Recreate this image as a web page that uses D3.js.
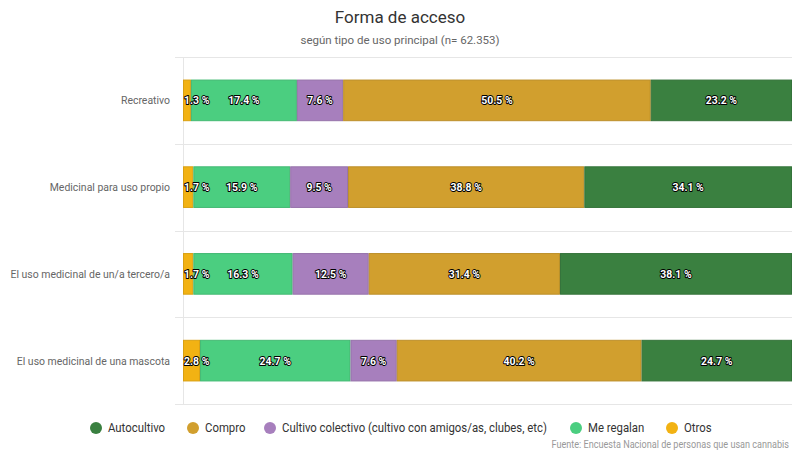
<!DOCTYPE html>
<html>
<head>
<meta charset="utf-8">
<script src="https://cdn.jsdelivr.net/npm/d3@7"></script>
<style>
  body { margin: 0; background: #fff; }
  svg { font-family: Roboto, "Noto Sans", sans-serif; }
</style>
</head>
<body>
<div id="chart"></div>
<script>
// data
var categories = ["Recreativo", "Medicinal para uso propio", "El uso medicinal de un/a tercero/a", "El uso medicinal de una mascota"];
var seriesNames = ["Otros", "Me regalan", "Cultivo colectivo (cultivo con amigos/as, clubes, etc)", "Compro", "Autocultivo"];
var otros = [1.3, 1.7, 1.7, 2.8];
var meRegalan = [17.4, 15.9, 16.3, 24.7];
var cultivoColectivo = [7.6, 9.5, 12.5, 7.6];
var compro = [50.5, 38.8, 31.4, 40.2];
var autocultivo = [23.2, 34.1, 38.1, 24.7];
var legendOrder = ["Autocultivo", "Compro", "Cultivo colectivo (cultivo con amigos/as, clubes, etc)", "Me regalan", "Otros"];

var colors = {
  "Otros": "#f2b213",
  "Me regalan": "#4bce80",
  "Cultivo colectivo (cultivo con amigos/as, clubes, etc)": "#a77fbd",
  "Compro": "#d19f2e",
  "Autocultivo": "#3a8040"
};

var width = 800, height = 453;
var margin = {top: 57, right: 8, bottom: 49, left: 183};
var squeeze = 0.91; // narrow the text a bit, the original font is condensed

var svg = d3.select('#chart').append('svg')
  .attr('width', width)
  .attr('height', height);

var rows = categories.map(function(c, i) {
  return {cat: c, values: [otros[i], meRegalan[i], cultivoColectivo[i], compro[i], autocultivo[i]]};
});

var x = d3.scaleLinear().domain([0, 100]).range([margin.left, width - margin.right]);
var y = d3.scaleBand().domain(categories).range([margin.top, height - margin.bottom]).paddingInner(0.52).paddingOuter(0.26);
var yGrid = d3.scaleBand().domain(categories).range([margin.top, height - margin.bottom]);

// text placed at (px,py) and squeezed sideways
function sqText(parent, px, py) {
  return parent.append('g')
    .attr('transform', 'translate(' + px + ',' + py + ') scale(' + squeeze + ',1)')
    .append('text');
}

// titles
svg.append('text').attr('x', width / 2).attr('y', 23)
  .attr('text-anchor', 'middle').attr('font-size', 17).attr('fill', '#333')
  .text('Forma de acceso');
svg.append('text').attr('x', width / 2).attr('y', 44)
  .attr('text-anchor', 'middle').attr('font-size', 11.5).attr('fill', '#666')
  .text('según tipo de uso principal (n= 62.353)');

// grid lines between categories
var gridYs = categories.map(function(c) { return yGrid(c); }).concat([height - margin.bottom]);
svg.selectAll('.grid').data(gridYs).enter().append('line')
  .attr('x1', margin.left - 8).attr('x2', width - margin.right)
  .attr('y1', function(d) { return Math.round(d) + 0.5; })
  .attr('y2', function(d) { return Math.round(d) + 0.5; })
  .attr('stroke', '#e6e6e6').attr('stroke-width', 1);
svg.append('line')
  .attr('x1', margin.left + 0.5).attr('x2', margin.left + 0.5)
  .attr('y1', margin.top).attr('y2', height - margin.bottom)
  .attr('stroke', '#e6e6e6');

// category labels
categories.forEach(function(c) {
  sqText(svg, margin.left - 13, y(c) + y.bandwidth() / 2)
    .attr('dy', '0.35em')
    .attr('text-anchor', 'end').attr('font-size', 11.5).attr('fill', '#666')
    .text(c);
});

// bars
var g = svg.selectAll('.row').data(rows).enter().append('g')
  .attr('transform', function(d) { return 'translate(0,' + y(d.cat) + ')'; });

g.each(function(d) {
  var acc = 0;
  var segs = d.values.map(function(v, i) {
    var s = {name: seriesNames[i], v: v, x0: acc, x1: acc + v};
    acc += v;
    return s;
  });
  var sel = d3.select(this);
  sel.selectAll('rect').data(segs).enter().append('rect')
    .attr('x', function(s) { return x(s.x0) + 0.5; })
    .attr('y', 0.5)
    .attr('width', function(s) { return Math.max(0, x(s.x1) - x(s.x0) - 1); })
    .attr('height', y.bandwidth() - 1)
    .attr('fill', function(s) { return colors[s.name]; })
    .attr('stroke', function(s) { return d3.color(colors[s.name]).darker(0.3); })
    .attr('stroke-width', 1);
  segs.forEach(function(s) {
    var small = s.v < 4;
    sqText(sel, small ? x(s.x0) + 1 : (x(s.x0) + x(s.x1)) / 2, y.bandwidth() / 2)
      .attr('dy', '0.35em')
      .attr('text-anchor', small ? 'start' : 'middle')
      .attr('font-size', 11.5).attr('font-weight', 'bold')
      .attr('fill', '#fff').attr('stroke', '#000').attr('stroke-width', 2)
      .attr('stroke-linejoin', 'round').attr('paint-order', 'stroke')
      .text(s.v.toFixed(1) + ' %');
  });
});

// legend
var legendX = [96, 193, 270, 576, 672];
legendOrder.forEach(function(name, i) {
  svg.append('circle').attr('cx', legendX[i]).attr('cy', 428)
    .attr('r', 6).attr('fill', colors[name]);
  sqText(svg, legendX[i] + 12, 428)
    .attr('dy', '0.35em')
    .attr('font-size', 12.5).attr('fill', '#333')
    .text(name);
});

// source
sqText(svg, 789, 448)
  .attr('text-anchor', 'end').attr('font-size', 10).attr('fill', '#999')
  .text('Fuente: Encuesta Nacional de personas que usan cannabis');
</script>
</body>
</html>
